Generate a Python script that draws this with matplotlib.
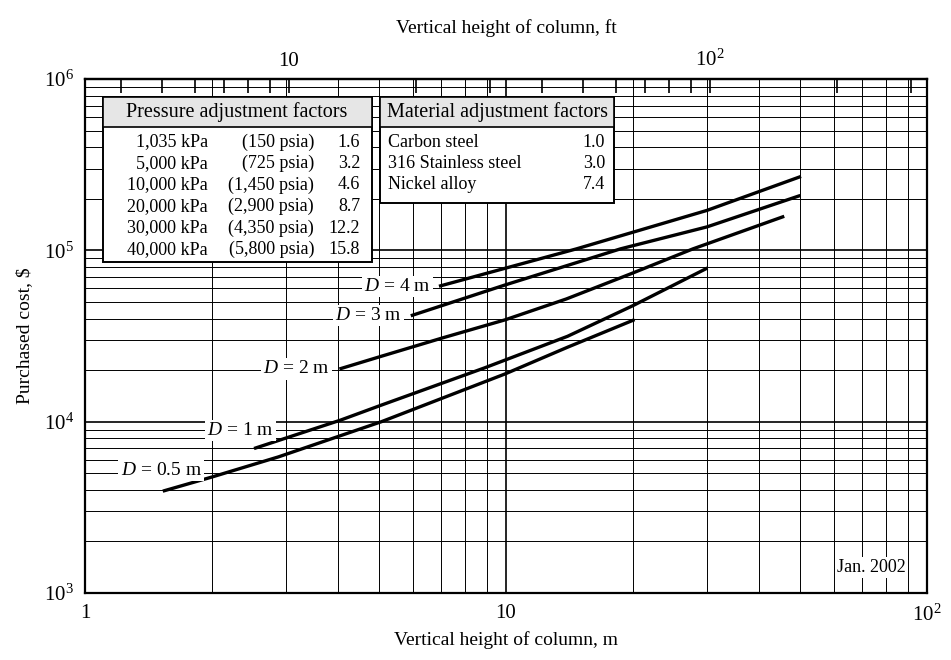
import numpy as np
import matplotlib
matplotlib.use("Agg")
import matplotlib.pyplot as plt
from matplotlib.patches import Rectangle
from matplotlib.ticker import FixedLocator, FixedFormatter, NullFormatter, LogLocator

plt.rcParams['font.family'] = ['Liberation Serif', 'DejaVu Serif']
plt.rcParams['mathtext.fontset'] = 'custom'
plt.rcParams['mathtext.rm'] = 'Liberation Serif'
plt.rcParams['mathtext.it'] = 'Liberation Serif:italic'

#Curves: vertical height (m) vs purchased cost ($)
diameters = ["4", "3", "2", "1", "0.5"]
height_D4 = [6.93, 14.7, 30.0, 50.2]
cost_D4 = [61700, 102000, 171000, 270000]
height_D3 = [5.94, 9.95, 18.7, 30.0, 50.0]
cost_D3 = [41500, 62800, 102000, 137000, 209000]
height_D2 = [4.02, 5.06, 7.09, 9.95, 13.9, 19.8, 27.8, 45.8]
cost_D2 = [20300, 24100, 30900, 39300, 52000, 73000, 102000, 158000]
height_D1 = [2.52, 4.04, 5.06, 8.89, 14.0, 20.0, 30.1]
cost_D1 = [6970, 10200, 12500, 20600, 31500, 47500, 78900]
height_D05 = [1.53, 2.0, 2.88, 5.06, 9.95, 14.0, 20.2]
cost_D05 = [3930, 4750, 6230, 10000, 19000, 27200, 39400]

heights = [height_D4, height_D3, height_D2, height_D1, height_D05]
costs = [cost_D4, cost_D3, cost_D2, cost_D1, cost_D05]

#adjustment factor tables
pressure_kpa = ["1,035", "5,000", "10,000", "20,000", "30,000", "40,000"]
pressure_psia = ["150", "725", "1,450", "2,900", "4,350", "5,800"]
pressure_factor = ["1.6", "3.2", "4.6", "8.7", "12.2", "15.8"]
materials = ["Carbon steel", "316 Stainless steel", "Nickel alloy"]
material_factor = ["1.0", "3.0", "7.4"]

fig = plt.figure(figsize=(9.51, 6.6), dpi=100)
ax = fig.add_axes([0.0894, 0.1015, 0.8854, 0.7788])
ax.set_xscale('log')
ax.set_yscale('log')
ax.set_xlim(1, 100)
ax.set_ylim(1e3, 1e6)

#grid like graph paper
ax.xaxis.set_minor_locator(LogLocator(base=10, subs=np.arange(2, 10)))
ax.yaxis.set_minor_locator(LogLocator(base=10, subs=np.arange(2, 10)))
ax.xaxis.set_minor_formatter(NullFormatter())
ax.yaxis.set_minor_formatter(NullFormatter())
ax.grid(which='major', color='black', lw=1.2, zorder=0)
ax.grid(which='minor', color='black', lw=0.7, zorder=0)
ax.set_axisbelow(True)
for sp in ax.spines.values():
    sp.set_linewidth(1.6)

ax.xaxis.set_major_locator(FixedLocator([1, 10, 100]))
ax.xaxis.set_major_formatter(FixedFormatter(["1", "10", r"$10^2$"]))
ax.yaxis.set_major_locator(FixedLocator([1e3, 1e4, 1e5, 1e6]))
ax.yaxis.set_major_formatter(FixedFormatter([r"$10^3$", r"$10^4$", r"$10^5$", r"$10^6$"]))
ax.tick_params(which='both', length=0, labelsize=15)
ax.tick_params(axis='x', pad=8)
ax.tick_params(axis='y', pad=8)
ax.set_xlabel("Vertical height of column, m", fontsize=14, labelpad=4)
ax.set_ylabel("Purchased cost, $", fontsize=14, labelpad=8)

#top axis in feet
secax = ax.secondary_xaxis('top', functions=(lambda m: m / 0.3048, lambda f: f * 0.3048))
secax.xaxis.set_major_locator(FixedLocator([10, 100]))
secax.xaxis.set_major_formatter(FixedFormatter(["10", r"$10^2$"]))
secax.xaxis.set_minor_locator(FixedLocator([4, 5, 6, 7, 8, 9, 20, 30, 40, 50, 60, 70, 80, 90, 200, 300]))
secax.xaxis.set_minor_formatter(NullFormatter())
secax.tick_params(which='both', direction='in', length=10, width=1.2, labelsize=15, pad=6)
secax.spines['top'].set_linewidth(1.6)
secax.set_xlabel("Vertical height of column, ft", fontsize=14, labelpad=12)

#the curves
label_offsets = [(-8, 0), (-9, 0), (-10, 0), (20, 18), (39, 21)]
for d, h, c, off in zip(diameters, heights, costs, label_offsets):
    ax.plot(h, c, color='black', lw=2.4, solid_capstyle='butt', zorder=3)
    ax.annotate(r"$D$ = " + d + " m", xy=(h[0], c[0]), xytext=off, textcoords='offset pixels',
                ha='right', va='center', fontsize=14, zorder=4,
                bbox=dict(facecolor='white', edgecolor='none', pad=1.5))

#adjustment factor boxes (axes fraction coordinates)
def box(x0, x1, y0, y1, head_y0):
    ax.add_patch(Rectangle((x0, y0), x1 - x0, y1 - y0, transform=ax.transAxes,
                           facecolor='white', edgecolor='black', lw=1.4, zorder=5))
    ax.add_patch(Rectangle((x0, head_y0), x1 - x0, y1 - head_y0, transform=ax.transAxes,
                           facecolor='#e6e6e6', edgecolor='black', lw=1.2, zorder=5))

box(0.0214, 0.3409, 0.644, 0.965, 0.9066)
box(0.3504, 0.6283, 0.7588, 0.965, 0.9066)

row_y = [0.8774, 0.8356, 0.7938, 0.7519, 0.7101, 0.6683]
tfs = 13
hfs = 14.5
ax.text(0.1805, 0.9358, "Pressure adjustment factors", transform=ax.transAxes, ha='center', va='center', fontsize=hfs, zorder=6)
for i in range(len(pressure_kpa)):
    ax.text(0.1461, row_y[i], pressure_kpa[i] + " kPa", transform=ax.transAxes, ha='right', va='center', fontsize=tfs, zorder=6)
    ax.text(0.2720, row_y[i], "(" + pressure_psia[i] + " psia)", transform=ax.transAxes, ha='right', va='center', fontsize=tfs, zorder=6)
    ax.text(0.3266, row_y[i], pressure_factor[i], transform=ax.transAxes, ha='right', va='center', fontsize=tfs, zorder=6)

ax.text(0.4893, 0.9358, "Material adjustment factors", transform=ax.transAxes, ha='center', va='center', fontsize=hfs, zorder=6)
for i in range(len(materials)):
    ax.text(0.3599, row_y[i], materials[i], transform=ax.transAxes, ha='left', va='center', fontsize=tfs, zorder=6)
    ax.text(0.6176, row_y[i], material_factor[i], transform=ax.transAxes, ha='right', va='center', fontsize=tfs, zorder=6)

ax.text(0.975, 0.049, "Jan. 2002", transform=ax.transAxes, ha='right', va='center', fontsize=13, zorder=6,
        bbox=dict(facecolor='white', edgecolor='none', pad=1.5))

fig.savefig("out.png", dpi=100)
